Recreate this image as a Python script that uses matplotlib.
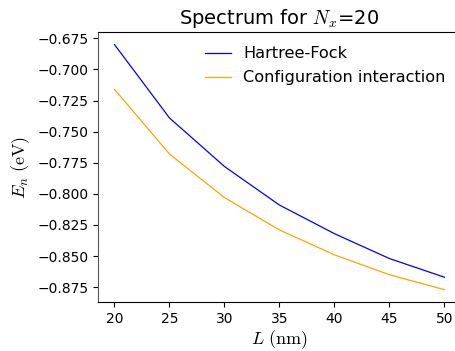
import matplotlib
matplotlib.use("Agg")
import matplotlib.pyplot as plt

# データ
L_nm = [20, 25, 30, 35, 40, 45, 50]
E_hf = [-0.680, -0.739, -0.778, -0.809, -0.832, -0.852, -0.867]
E_ci = [-0.716, -0.768, -0.803, -0.829, -0.849, -0.865, -0.877]
x_ticks = [20, 25, 30, 35, 40, 45, 50]
y_ticks = [-0.675, -0.700, -0.725, -0.750, -0.775, -0.800, -0.825, -0.850, -0.875]

plt.rcParams["mathtext.fontset"] = "cm"

fig = plt.figure(figsize=(4.56, 3.51), dpi=100)
ax = fig.add_axes([98 / 456, 1 - 302 / 351, 363 / 456, 270 / 351])

ax.plot(L_nm, E_hf, color="blue", lw=0.9, label="Hartree-Fock")
ax.plot(L_nm, E_ci, color="orange", lw=0.9, label="Configuration interaction")

ax.set_xlim(18.5, 51.5)
ax.set_ylim(-0.8869, -0.6699)
ax.set_xticks(x_ticks)
ax.set_yticks(y_ticks)
ax.set_yticklabels(["\u2212{:.3f}".format(abs(v)) for v in y_ticks])
ax.tick_params(labelsize=10)

ax.set_xlabel(r"$L\ (\mathrm{nm})$", fontsize=13, labelpad=2)
ax.set_ylabel(r"$E_n\ (\mathrm{eV})$", fontsize=13)
ax.set_title(r"Spectrum for $N_x$=20", fontsize=14)
ax.spines["left"].set_color("#555555")

ax.legend(frameon=False, fontsize=11.6, loc="upper right", handlelength=1.6,
          labelspacing=0.55, bbox_to_anchor=(0.998, 1.0))

fig.savefig("out.png", dpi=100)
